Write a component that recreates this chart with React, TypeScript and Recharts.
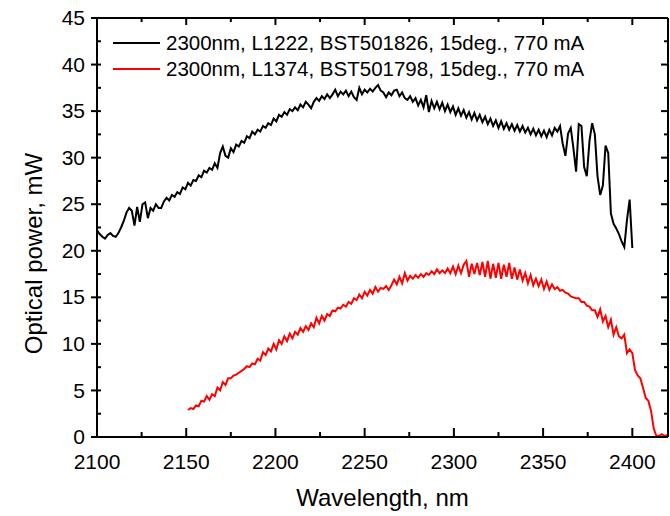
import React from "react";
import { LineChart, Line, XAxis, YAxis, Legend } from "recharts";

// wavelength grid: both scans sampled every 1.5 nm
const STEP = 1.5;
const blackStart = 2100;
const redStart = 2151;

const blackLabel = "2300nm, L1222, BST501826, 15deg., 770 mA";
const redLabel = "2300nm, L1374, BST501798, 15deg., 770 mA";

// L1222 optical power, mW (2100 .. 2400 nm)
const blackPower = [
  22.2, 21.8, 21.5, 21.3, 21.7, 21.9, 21.6, 21.5, 21.9, 22.5,
  23.2, 24.1, 24.6, 24.3, 22.7, 24.7, 23.1, 25.0, 25.2, 23.5,
  24.6, 24.3, 25.0, 24.6, 24.6, 25.3, 25.7, 25.4, 26.0, 25.8,
  26.3, 26.1, 26.8, 26.6, 27.3, 27.0, 27.6, 27.5, 28.1, 27.9,
  28.6, 28.4, 28.9, 28.7, 29.4, 28.9, 30.5, 31.2, 30.2, 30.0,
  31.0, 30.6, 31.4, 31.2, 31.8, 31.6, 32.3, 32.1, 32.8, 32.5,
  33.0, 32.8, 33.4, 33.2, 33.7, 33.5, 34.2, 33.9, 34.6, 34.4,
  34.9, 34.6, 35.2, 35.0, 35.4, 35.1, 35.7, 35.4, 36.0, 35.7,
  35.3, 36.0, 36.4, 36.1, 36.6, 36.3, 36.8, 36.4, 36.8, 37.3,
  36.6, 37.1, 36.8, 37.2, 36.6, 37.1, 36.5, 36.2, 37.5, 36.8,
  37.3, 37.0, 37.4, 37.1, 37.5, 37.8, 37.2, 37.0, 36.5, 37.0,
  36.7, 37.2, 37.3, 36.6, 37.0, 36.4, 36.2, 36.6, 36.0, 36.4,
  35.6, 36.2, 35.4, 36.7, 34.9, 36.1, 35.3, 36.0, 35.2, 35.9,
  35.0, 35.7, 34.9, 35.5, 34.6, 35.3, 34.5, 35.1, 34.3, 34.9,
  34.1, 34.8, 34.0, 34.6, 33.8, 34.4, 33.6, 34.2, 33.4, 34.0,
  33.2, 33.9, 33.1, 33.7, 33.0, 33.6, 32.9, 33.5, 32.8, 33.4,
  32.7, 33.2, 32.5, 33.1, 32.4, 33.0, 32.3, 32.9, 32.2, 33.0,
  32.4, 33.2, 32.8, 33.4, 31.5, 30.2, 32.6, 33.2, 31.0, 28.5,
  33.6, 33.4, 29.0, 28.0, 31.8, 33.7, 32.5, 28.0, 26.0, 27.0,
  31.3, 30.5, 24.0, 22.9, 22.4, 21.8, 21.0, 20.4, 23.3, 25.5,
  20.3,
];

// L1374 optical power, mW (2151 .. 2419.5 nm)
const redPower = [
  2.9, 3.1, 3.0, 3.4, 3.3, 3.9, 3.8, 4.4, 4.0, 4.6,
  4.4, 5.3, 5.0, 5.9, 5.6, 6.3, 6.3, 6.6, 6.7, 6.9,
  7.1, 7.3, 7.6, 7.5, 7.9, 7.8, 8.4, 8.2, 9.1, 8.8,
  9.5, 9.2, 10.0, 9.4, 10.4, 10.0, 10.8, 10.3, 11.1, 10.6,
  11.3, 11.0, 11.7, 11.3, 11.9, 11.5, 12.2, 11.8, 12.8, 12.2,
  13.0, 12.5, 13.2, 13.0, 13.6, 13.5, 13.9, 13.8, 14.2, 14.0,
  14.5, 14.3, 14.9, 14.7, 15.3, 14.9, 15.6, 15.2, 15.8, 15.4,
  16.1, 15.6, 16.0, 15.9, 16.2, 15.8, 16.3, 16.9, 16.4, 17.2,
  16.5, 17.6, 16.8, 17.3, 17.0, 17.4, 17.1, 17.5, 17.2, 17.6,
  17.4, 17.8, 17.5, 18.0, 17.6, 17.9, 17.6, 18.1, 17.6, 18.3,
  17.5, 18.4, 17.6, 18.5, 18.9, 17.2, 18.6, 17.5, 18.7, 17.4,
  18.8, 17.2, 18.9, 17.0, 18.6, 17.1, 18.7, 17.0, 18.5, 17.2,
  18.7, 17.0, 18.2, 16.9, 18.0, 16.8, 17.6, 16.5, 17.4, 16.3,
  17.0, 16.2, 16.9, 15.9, 16.7, 15.8, 16.4, 15.9, 16.1, 15.7,
  15.8, 15.5, 15.4, 15.1, 15.0, 14.9, 14.9, 14.5, 14.5, 14.1,
  14.0, 13.6, 13.6, 12.9, 13.7, 12.4, 13.0, 11.8, 12.6, 11.0,
  11.8, 10.8, 10.6, 11.0, 9.0, 9.4, 9.0, 7.2, 6.6, 6.3,
  5.3, 4.2, 3.9, 2.8, 0.9, 0.1, 0.1, 0.3, 0.1, 0.2,
];

const xTicks = [2100, 2125, 2150, 2175, 2200, 2225, 2250, 2275, 2300, 2325, 2350, 2375, 2400];
const yTicks = [0, 2.5, 5, 7.5, 10, 12.5, 15, 17.5, 20, 22.5, 25, 27.5, 30, 32.5, 35, 37.5, 40, 42.5, 45];
const xMajor = 50;
const yMajor = 5;

const blackData = blackPower.map((mw, i) => ({ wl: blackStart + i * STEP, mw }));
const redData = redPower.map((mw, i) => ({ wl: redStart + i * STEP, mw }));

const FONT = "'Liberation Sans', Arial, sans-serif";

const BottomTick = (props: any) => {
  const { x, y, payload } = props;
  const major = payload.value % xMajor === 0;
  return (
    <g>
      <line x1={x} x2={x} y1={y} y2={y - (major ? 9 : 5)} stroke="#000" strokeWidth={2} />
      {major && (
        <text x={x} y={y + 32} textAnchor="middle" fontSize={21} fontFamily={FONT} fill="#000">
          {payload.value}
        </text>
      )}
    </g>
  );
};

const TopTick = (props: any) => {
  const { x, y, payload } = props;
  const major = payload.value % xMajor === 0;
  return <line x1={x} x2={x} y1={y} y2={y + (major ? 7 : 4)} stroke="#000" strokeWidth={2} />;
};

const LeftTick = (props: any) => {
  const { x, y, payload } = props;
  const major = payload.value % yMajor === 0;
  return (
    <g>
      <line x1={major ? x - 6 : x} x2={x + 4} y1={y} y2={y} stroke="#000" strokeWidth={2} />
      {major && (
        <text x={x - 12} y={y} dy="0.34em" textAnchor="end" fontSize={21} fontFamily={FONT} fill="#000">
          {payload.value}
        </text>
      )}
    </g>
  );
};

const RightTick = (props: any) => {
  const { x, y, payload } = props;
  const major = payload.value % yMajor === 0;
  return <line x1={x} x2={x - (major ? 7 : 4)} y1={y} y2={y} stroke="#000" strokeWidth={2} />;
};

const YTitle = (props: any) => {
  const { viewBox } = props;
  const cx = viewBox.x + 33;
  const cy = viewBox.y + viewBox.height / 2 + 26;
  return (
    <text x={cx} y={cy} transform={`rotate(-90 ${cx} ${cy})`} textAnchor="middle" dy="0.36em"
      fontSize={24} fontFamily={FONT} fill="#000">
      Optical power, mW
    </text>
  );
};

const XTitle = (props: any) => {
  const { viewBox } = props;
  return (
    <text x={viewBox.x + viewBox.width / 2} y={viewBox.y + 69} textAnchor="middle"
      fontSize={24} fontFamily={FONT} fill="#000">
      Wavelength, nm
    </text>
  );
};

const LegendBox = () => (
  <div style={{ fontFamily: FONT, fontSize: 20.5, color: "#000", lineHeight: "26px" }}>
    {[
      { label: blackLabel, color: "#000" },
      { label: redLabel, color: "#ff0000" },
    ].map((s) => (
      <div key={s.label} style={{ display: "flex", alignItems: "center", whiteSpace: "nowrap" }}>
        <span style={{ display: "inline-block", width: 47, height: 2, background: s.color, marginRight: 6 }} />
        <span>{s.label}</span>
      </div>
    ))}
  </div>
);

export default function App() {
  return (
    <div style={{ position: "absolute", left: 0, top: 0, background: "#fff" }}>
      <LineChart width={670} height={516} margin={{ top: 17, right: 1, left: 0, bottom: 0 }}>
        <XAxis
          dataKey="wl"
          type="number"
          domain={[2100, 2420]}
          allowDataOverflow
          ticks={xTicks}
          interval={0}
          height={79}
          tickSize={0}
          tickMargin={0}
          tick={<BottomTick />}
          axisLine={{ stroke: "#000", strokeWidth: 2 }}
          label={<XTitle />}
        />
        <XAxis
          xAxisId="top"
          orientation="top"
          dataKey="wl"
          type="number"
          domain={[2100, 2420]}
          allowDataOverflow
          ticks={xTicks}
          interval={0}
          height={1}
          tickSize={0}
          tickMargin={0}
          tick={<TopTick />}
          axisLine={{ stroke: "#000", strokeWidth: 2 }}
        />
        <YAxis
          type="number"
          domain={[0, 45]}
          allowDataOverflow
          ticks={yTicks}
          interval={0}
          width={97}
          tickSize={0}
          tickMargin={0}
          tick={<LeftTick />}
          axisLine={{ stroke: "#000", strokeWidth: 2 }}
          label={<YTitle />}
        />
        <YAxis
          yAxisId="right"
          orientation="right"
          type="number"
          domain={[0, 45]}
          allowDataOverflow
          ticks={yTicks}
          interval={0}
          width={1}
          tickSize={0}
          tickMargin={0}
          tick={<RightTick />}
          axisLine={{ stroke: "#000", strokeWidth: 2 }}
        />
        <Legend
          layout="vertical"
          align="center"
          verticalAlign="middle"
          wrapperStyle={{ top: 30, left: 113, width: "auto" }}
          content={<LegendBox />}
        />
        <Line data={blackData} dataKey="mw" name={blackLabel} stroke="#000" strokeWidth={2}
          dot={false} isAnimationActive={false} type="linear" />
        {/* red scan is bound to the top/right axes (same scales) so the frame axes get drawn */}
        <Line data={redData} dataKey="mw" name={redLabel} xAxisId="top" yAxisId="right"
          stroke="#ff0000" strokeWidth={2} dot={false} isAnimationActive={false} type="linear" />
      </LineChart>
    </div>
  );
}
